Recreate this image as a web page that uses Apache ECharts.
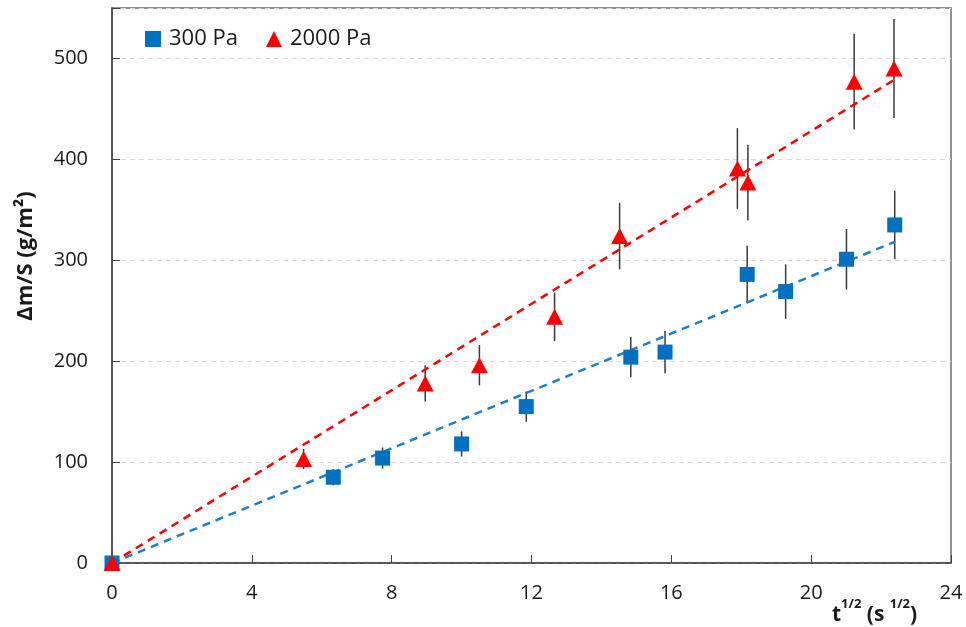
<!DOCTYPE html>
<html><head><meta charset="utf-8">
<script src="https://cdn.jsdelivr.net/npm/echarts@6/dist/echarts.min.js"></script>
<style>html,body{margin:0;padding:0;background:#fff}#c{width:966px;height:627px}</style>
</head><body><div id="c"></div>
<script>
// 300 Pa
const lowX = [0, 6.33, 7.74, 10.0, 11.85, 14.84, 15.82, 18.17, 19.27, 21.01, 22.39];
const lowY = [0, 85, 104, 118, 155, 204, 209, 286, 269, 301, 335];
const lowErr = [0, 8, 10.5, 12.5, 15, 20, 21, 28.5, 27, 30, 34];
// 2000 Pa
const highX = [0, 5.48, 8.96, 10.51, 12.66, 14.52, 17.89, 18.19, 21.23, 22.37];
const highY = [0, 103, 178, 196, 244, 324, 391, 377, 477, 490];
const highErr = [0, 10, 18, 20, 24, 33, 40, 37.5, 47.5, 49];
const xTicks = [0, 4, 8, 12, 16, 20, 24];
const yTicks = [0, 100, 200, 300, 400, 500];

const FONT = "'Open Sans', 'Noto Sans', sans-serif";
const BLUE = '#0070C0', RED = '#FF0000';

function slopeThroughOrigin(xs, ys) {
  let sxy = 0, sxx = 0;
  for (let i = 0; i < xs.length; i++) { sxy += xs[i] * ys[i]; sxx += xs[i] * xs[i]; }
  return sxy / sxx;
}
function trend(xs, ys) {
  const k = slopeThroughOrigin(xs, ys);
  const xm = Math.max(...xs);
  return [[0, 0], [xm, k * xm]];
}
function errData(xs, ys, es) {
  const out = [];
  for (let i = 0; i < xs.length; i++) if (es[i] > 0) out.push([xs[i], ys[i] - es[i], ys[i] + es[i]]);
  return out;
}
function errSeries(d) {
  return {
    type: 'custom', data: d, z: 1, silent: true,
    encode: { x: 0, y: [1, 2] },
    renderItem: function (params, api) {
      const a = api.coord([api.value(0), api.value(1)]);
      const b = api.coord([api.value(0), api.value(2)]);
      return { type: 'line', shape: { x1: a[0], y1: a[1], x2: b[0], y2: b[1] },
        style: { stroke: '#3a3a3a', lineWidth: 1.5 } };
    }
  };
}

const chart = echarts.init(document.getElementById('c'));
chart.setOption({
  animation: false,
  backgroundColor: '#fff',
  grid: { left: 112, right: 15, top: 8, bottom: 64, show: true, borderColor: '#6f6f6f', borderWidth: 1.5 },
  legend: {
    left: 140, top: 23, itemWidth: 16, itemHeight: 16, itemGap: 28,
    textStyle: { fontFamily: FONT, fontSize: 22, color: '#1a1a1a', padding: [0, 0, 0, 3] },
    data: [{ name: '300 Pa', icon: 'rect' }, { name: '2000 Pa', icon: 'triangle' }]
  },
  xAxis: {
    type: 'value', min: xTicks[0], max: xTicks[xTicks.length - 1], interval: 4,
    axisLine: { lineStyle: { color: '#404040', width: 1.5 } },
    axisTick: { inside: true, length: 8, lineStyle: { color: '#404040' } },
    axisLabel: { margin: 20, fontFamily: FONT, fontSize: 20, color: '#1a1a1a' },
    splitLine: { show: false }
  },
  yAxis: {
    type: 'value', min: 0, max: 550, interval: 100,
    axisLine: { show: true, lineStyle: { color: '#404040', width: 1.5 } },
    axisTick: { show: true, inside: true, length: 8, lineStyle: { color: '#404040' } },
    axisLabel: { margin: 24, fontFamily: FONT, fontSize: 20, color: '#1a1a1a',
      formatter: v => (yTicks.indexOf(v) >= 0 ? String(v) : '') },
    splitLine: { lineStyle: { color: '#d9d9d9', type: [5, 4], width: 1 } }
  },
  graphic: [
    { type: 'text', x: 26, y: 256, rotation: Math.PI / 2,
      style: { text: 'Δm/S (g/m²)', font: "bold 22px 'Open Sans', sans-serif", fill: '#1a1a1a',
        align: 'center', verticalAlign: 'middle' } },
    { type: 'text', left: 832, top: 598,
      style: {
        text: '{b|t}{s|1/2}{b| (s }{s|1/2}{b|)}',
        rich: {
          b: { fontFamily: FONT, fontSize: 21, fontWeight: 'bold', fill: '#1a1a1a', color: '#1a1a1a', lineHeight: 28, verticalAlign: 'bottom' },
          s: { fontFamily: FONT, fontSize: 13, fontWeight: 'bold', fill: '#1a1a1a', color: '#1a1a1a', verticalAlign: 'top' }
        }
      } }
  ],
  series: [
    errSeries(errData(lowX, lowY, lowErr)),
    errSeries(errData(highX, highY, highErr)),
    { type: 'line', data: trend(lowX, lowY), showSymbol: false, silent: true, z: 2,
      lineStyle: { color: '#1a7fd0', width: 2.5, type: [8, 6] } },
    { type: 'line', data: trend(highX, highY), showSymbol: false, silent: true, z: 2,
      lineStyle: { color: RED, width: 2.5, type: [8, 6] } },
    { name: '300 Pa', type: 'scatter', z: 3, symbol: 'rect', symbolSize: 15,
      itemStyle: { color: BLUE, opacity: 1 }, data: lowX.map((x, i) => [x, lowY[i]]) },
    { name: '2000 Pa', type: 'scatter', z: 4, symbol: 'triangle', symbolSize: [17, 16],
      itemStyle: { color: RED, opacity: 1 }, data: highX.map((x, i) => [x, highY[i]]) }
  ]
});
</script>
</body></html>
